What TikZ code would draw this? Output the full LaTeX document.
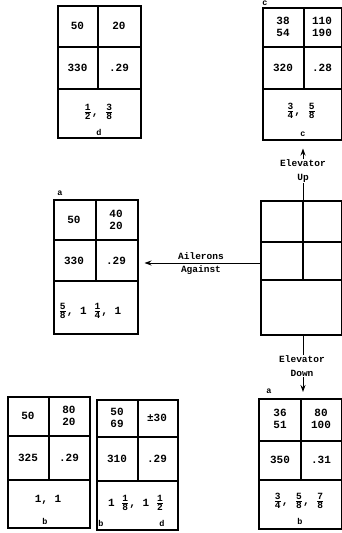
\documentclass[tikz,border=0pt]{standalone}
\usepackage{fontspec}
\setmonofont{Liberation Mono}
\usetikzlibrary{arrows.meta,calc}
\tikzset{
  grid/.style={draw, line width=1.5pt, inner sep=0pt, anchor=north west},
  inner/.style={line width=1.5pt},
  txt/.style={font=\ttfamily\bfseries\fontsize{11}{12}\selectfont, align=center, inner sep=0pt},
  small/.style={font=\ttfamily\bfseries\fontsize{8.5}{9}\selectfont, inner sep=0pt},
  lab/.style={font=\ttfamily\bfseries\fontsize{9.5}{14}\selectfont, inner sep=1pt, fill=white},
  arr/.style={line width=1pt, -{Stealth[length=7pt,width=5pt]}},
}
\newcommand\fr[2]{$\frac{\hbox{\fontsize{9.5}{10}\selectfont #1}}{\hbox{\fontsize{9.5}{10}\selectfont #2}}$}
\newcommand\gridbox[8]{%
  \node[grid, minimum width=#4-#2, minimum height=#5-#3] (#1) at (#2,#3) {};
  \draw[inner] (#6,#3) -- (#6,#8);
  \draw[inner] (#2,#7) -- (#4,#7);
  \draw[inner] (#2,#8) -- (#4,#8);
}
\begin{document}
\begin{tikzpicture}[x=1pt,y=-1pt]
\useasboundingbox (0,0) rectangle (342,533);

% box d (top left)
\gridbox{D}{57}{5}{140}{137}{98}{47}{89}
\node[txt] (d1) at (77.5,26) {50};
\node[txt] (d2) at (119,26) {20};
\node[txt] (d3) at (77.5,68) {330};
\node[txt] (d4) at (119,68) {.29};
\node[txt] (d5) at (98.5,112) {\fr{1}{2}, \fr{3}{8}};
\node[small] (d6) at (99,132) {d};

% box c (top right)
\gridbox{C}{262}{7}{341}{139}{304}{47}{89}
\node[small] (c0) at (265,3.6) {c};
\node[txt] (c1) at (283,27) {38\\54};
\node[txt] (c2) at (322,27) {110\\190};
\node[txt] (c3) at (283,68) {320};
\node[txt] (c4) at (322,68) {.28};
\node[txt] (c5) at (301,111) {\fr{3}{4}, \fr{5}{8}};
\node[small] (c6) at (303,134) {c};

% centre box
\gridbox{M}{260}{200}{341}{334}{303}{242}{280}
\coordinate (mtop) at (303,200);
\coordinate (mbot) at (303,334);
\coordinate (mleft) at (260,263);

% box a (middle left)
\gridbox{A}{53}{199}{137}{333}{96}{240}{281}
\node[small] (a0) at (60,193) {a};
\node[txt] (a1) at (74,220) {50};
\node[txt] (a2) at (116,220) {40\\20};
\node[txt] (a3) at (74,261) {330};
\node[txt] (a4) at (116,261) {.29};
\node[txt] (a5) at (90,311) {\fr{5}{8}, 1 \fr{1}{4}, 1};

% box b (bottom left)
\gridbox{B}{7}{396}{89}{527}{49}{436}{480}
\node[txt] (b1) at (28,416) {50};
\node[txt] (b2) at (69,416) {80\\20};
\node[txt] (b3) at (28,458) {325};
\node[txt] (b4) at (69,458) {.29};
\node[txt] (b5) at (48,500) {1, 1};
\node[small] (b6) at (45,521) {b};

% box bd (bottom middle)
\gridbox{E}{96}{399}{177}{529}{138}{437}{481}
\node[txt] (e1) at (117,418) {50\\69};
\node[txt] (e2) at (157,418) {±30};
\node[txt] (e3) at (117,459) {310};
\node[txt] (e4) at (157,459) {.29};
\node[txt] (e5) at (136,503) {1 \fr{1}{8}, 1 \fr{1}{2}};
\node[small] (e6) at (101,523) {b};
\node[small] (e7) at (162,523) {d};

% box bottom right
\gridbox{F}{258}{398}{341}{528}{301}{441}{480}
\node[small] (f0) at (269,391) {a};
\node[txt] (f1) at (280,419) {36\\51};
\node[txt] (f2) at (321,419) {80\\100};
\node[txt] (f3) at (280,460) {350};
\node[txt] (f4) at (321,460) {.31};
\node[txt] (f5) at (299,501) {\fr{3}{4}, \fr{5}{8}, \fr{7}{8}};
\node[small] (f6) at (300,521) {b};

% connectors
\draw[arr, shorten >=8pt] (mtop) -- (mtop |- C.south);
\node[lab, align=center] (up) at (303,171) {Elevator\\Up};

\draw[arr, shorten >=6pt] (mleft) -- (mleft -| A.east);
\node[lab, fill=none] (ail1) at (201,256) {Ailerons};
\node[lab, fill=none] (ail2) at (201,270) {Against};

\draw[arr, shorten >=6pt] (mbot) -- (mbot |- F.north);
\node[lab, align=center] (dn) at (302,366) {Elevator\\Down};
\end{tikzpicture}
\end{document}
